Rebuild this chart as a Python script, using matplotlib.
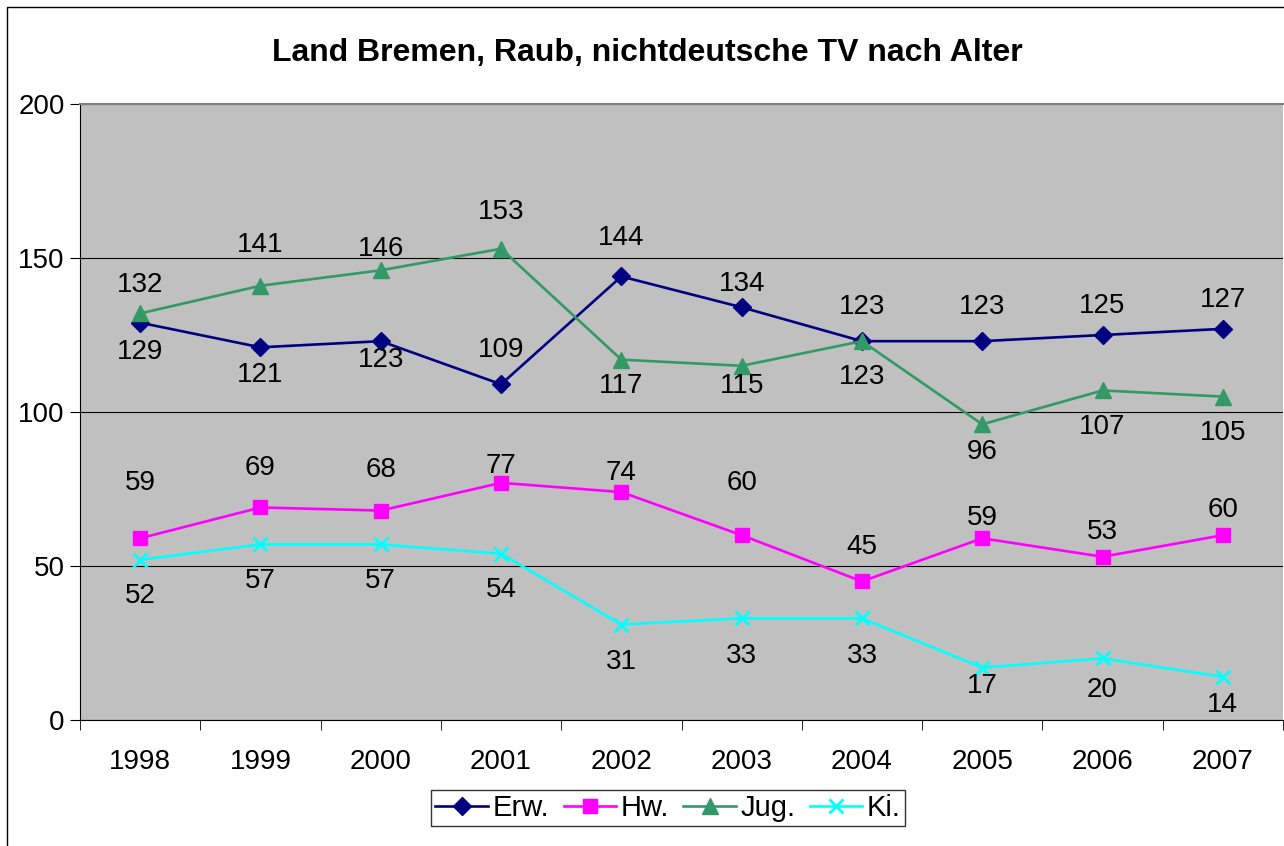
import matplotlib.pyplot as plt
from matplotlib.patches import Rectangle

plt.rcParams['font.family'] = ['Liberation Sans', 'DejaVu Sans']

years = ['1998', '1999', '2000', '2001', '2002', '2003', '2004', '2005', '2006', '2007']
erw = [129, 121, 123, 109, 144, 134, 123, 123, 125, 127]
hw = [59, 69, 68, 77, 74, 60, 45, 59, 53, 60]
jug = [132, 141, 146, 153, 117, 115, 123, 96, 107, 105]
ki = [52, 57, 57, 54, 31, 33, 33, 17, 20, 14]

# label offsets in pixels (negative = below the point), as placed in the original chart
erw_off = [-29, -28, -19, 34, 38, 23, 34, 34, 29, 29]
hw_off = [55, 39, 41, 17, 19, 52, 34, 20, 25, 25]
jug_off = [28, 41, 21, 37, -26, -20, -36, -28, -37, -36]
ki_off = [-36, -37, -37, -36, -37, -38, -38, -18, -32, -28]

W, H = 1284, 846
fig = plt.figure(figsize=(W / 100, H / 100), dpi=100)
ax = fig.add_axes([80 / W, 1 - 720 / H, (1283 - 80) / W, (720 - 104) / H])
ax.set_facecolor('#C0C0C0')

# outer chart frame (cut off at right and bottom)
fig.patches.append(Rectangle((7 / W, -0.1), 1.2, 1 - 7 / H + 0.1, transform=fig.transFigure,
                             fill=False, edgecolor='black', linewidth=1))

x = list(range(len(years)))
series = [
    ('Erw.', erw, '#000080', 'D', 9, erw_off),
    ('Hw.', hw, '#FF00FF', 's', 10, hw_off),
    ('Jug.', jug, '#339966', '^', 11, jug_off),
    ('Ki.', ki, '#00FFFF', 'x', 10, ki_off),
]
for name, vals, col, mk, ms, offs in series:
    ax.plot(x, vals, color=col, marker=mk, markersize=ms, linewidth=1.9, label=name,
            markeredgewidth=2 if mk == 'x' else 1)
    for xi, v, o in zip(x, vals, offs):
        ax.annotate(str(v), (xi, v), xytext=(0, o), textcoords='offset pixels',
                    ha='center', va='center', fontsize=20)

ax.set_xlim(-0.5, 9.5)
ax.set_ylim(0, 200)
ax.set_yticks([0, 50, 100, 150, 200])
ax.yaxis.grid(True, color='black', linewidth=0.8)
ax.set_axisbelow(True)
ax.set_xticks(x)
ax.set_xticklabels(years)
ax.set_xticks([i - 0.5 for i in range(11)], minor=True)
ax.tick_params(axis='x', which='major', length=0, labelsize=20, pad=21)
ax.tick_params(axis='x', which='minor', length=7, direction='out', color='black')
ax.tick_params(axis='y', length=7, direction='out', labelsize=20, pad=4)
ax.spines['top'].set_color('#808080')
ax.spines['top'].set_linewidth(1.5)
ax.spines['right'].set_visible(False)
ax.spines['left'].set_color('black')
ax.spines['bottom'].set_color('black')

fig.text(647 / W, 1 - 53 / H, 'Land Bremen, Raub, nichtdeutsche TV nach Alter',
         ha='center', va='center', fontsize=23, fontweight='bold')

leg = ax.legend(loc='center', bbox_to_anchor=((668 - 80) / (1203), (720 - 808) / 616),
                ncol=4, frameon=True, fancybox=False, fontsize=21, handlelength=1.8,
                handletextpad=0.15, columnspacing=0.5, borderpad=0.15, borderaxespad=0)
leg.get_frame().set_edgecolor('black')
leg.get_frame().set_linewidth(1)

fig.savefig('out.png', dpi=100)
